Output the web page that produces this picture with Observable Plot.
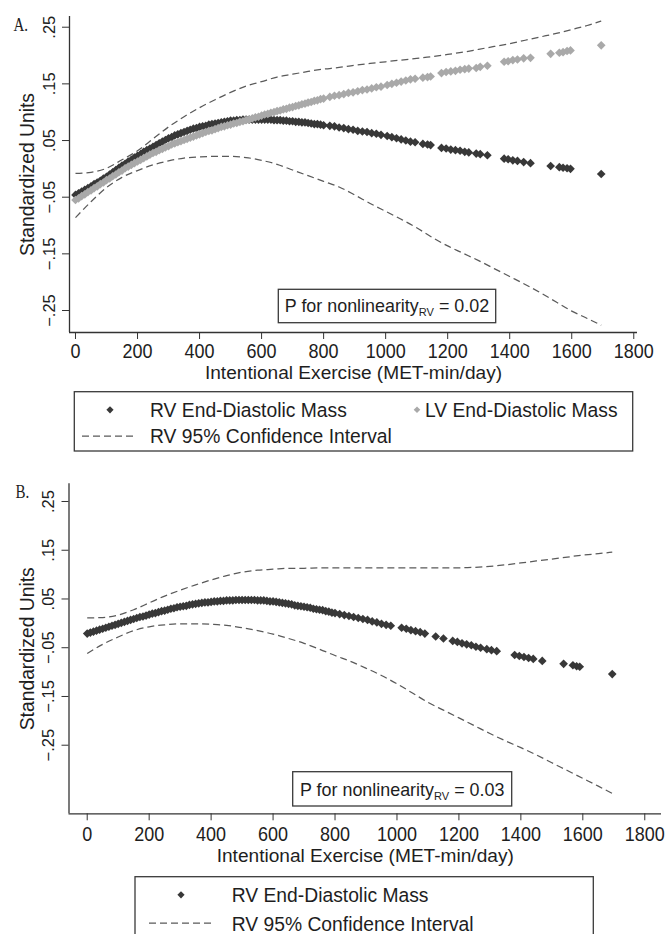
<!DOCTYPE html>
<html><head><meta charset="utf-8">
<script src="https://cdn.jsdelivr.net/npm/d3@7"></script>
<script src="https://cdn.jsdelivr.net/npm/@observablehq/plot@0.6"></script>
<style>
html,body{margin:0;padding:0;background:#fff;}
#page{position:relative;width:668px;height:934px;overflow:hidden;background:#fff;}
#page > svg{position:absolute;left:0;}
</style></head><body><div id="page"></div>
<script>
// ---------- data ----------
const xTicks = [0,200,400,600,800,1000,1200,1400,1600,1800];
const xTickLabels = ["0","200","400","600","800","1000","1200","1400","1600","1800"];
const yTicks = [-0.25,-0.15,-0.05,0.05,0.15,0.25];
const yTickLabels = ["\u2212.25","\u2212.15","\u2212.05",".05",".15",".25"];
const xTitle = "Intentional Exercise (MET-min/day)";
const yTitle = "Standardized Units";

// Panel A: subjects' exercise values and predicted standardized masses
const exerciseA = [0,10,20,30,40,50,60,70,80,90,100,110,120,130,140,150,160,170,180,190,200,210,220,230,240,250,260,270,280,290,300,310,320,330,340,350,360,370,380,390,400,410,420,430,440,450,460,470,480,490,500,510,520,530,540,550,560,570,580,590,600,610,620,630,640,650,660,670,680,690,700,710,720,730,740,750,760,770,780,790,800,
  820,835,850,865,880,895,910,925,940,955,970,985,1005,1020,1035,1050,1065,1080,1095,1120,1135,1145,1180,1195,1210,1225,1240,1255,1268,1292,1305,1328,1382,1395,1410,1425,1445,1467,1532,1560,1572,1585,1596,1695];
const rvA = [-0.046,-0.043,-0.040,-0.037,-0.034,-0.031,-0.027,-0.024,-0.021,-0.017,-0.014,-0.010,-0.006,-0.002,0.002,0.006,0.009,0.013,0.016,0.020,0.023,0.026,0.030,0.033,0.036,0.039,0.042,0.045,0.048,0.051,0.054,0.056,0.059,0.061,0.063,0.065,0.067,0.069,0.071,0.072,0.074,0.075,0.076,0.078,0.079,0.080,0.081,0.082,0.083,0.084,0.085,0.085,0.086,0.086,0.087,0.087,0.087,0.087,0.087,0.087,0.087,0.087,0.087,0.087,0.086,0.086,0.086,0.085,0.085,0.084,0.084,0.083,0.083,0.082,0.082,0.081,0.080,0.079,0.079,0.078,0.077,
  0.076,0.075,0.073,0.072,0.070,0.069,0.067,0.066,0.065,0.063,0.062,0.060,0.058,0.056,0.054,0.052,0.050,0.048,0.047,0.044,0.043,0.042,0.037,0.036,0.034,0.033,0.032,0.030,0.029,0.027,0.026,0.024,0.018,0.017,0.015,0.014,0.012,0.010,0.005,0.003,0.002,0.001,0.000,-0.009];
const lvA = [-0.055,-0.052,-0.048,-0.045,-0.041,-0.038,-0.034,-0.031,-0.027,-0.024,-0.020,-0.017,-0.013,-0.010,-0.006,-0.003,0.001,0.004,0.007,0.010,0.013,0.016,0.019,0.022,0.025,0.028,0.030,0.033,0.035,0.038,0.040,0.043,0.045,0.047,0.049,0.051,0.053,0.055,0.057,0.059,0.061,0.063,0.065,0.067,0.068,0.070,0.072,0.074,0.075,0.077,0.078,0.080,0.081,0.083,0.084,0.086,0.087,0.089,0.091,0.092,0.094,0.096,0.097,0.099,0.100,0.102,0.103,0.105,0.106,0.108,0.109,0.111,0.112,0.114,0.115,0.117,0.118,0.120,0.121,0.123,0.124,
  0.127,0.129,0.130,0.132,0.134,0.135,0.137,0.139,0.140,0.142,0.144,0.145,0.148,0.150,0.152,0.154,0.156,0.158,0.159,0.161,0.162,0.163,0.169,0.171,0.172,0.173,0.175,0.176,0.177,0.178,0.180,0.182,0.189,0.190,0.192,0.193,0.195,0.196,0.203,0.205,0.206,0.208,0.209,0.218];
const ciXA = [0,50,100,150,200,250,300,350,400,450,500,550,600,650,700,750,800,850,900,950,1000,1050,1100,1150,1200,1250,1300,1350,1400,1450,1500,1550,1600,1650,1695];
const ciUpperA = [-0.008,-0.006,0.001,0.016,0.032,0.053,0.074,0.092,0.108,0.122,0.135,0.146,0.154,0.162,0.167,0.172,0.176,0.179,0.183,0.186,0.189,0.192,0.195,0.198,0.202,0.206,0.211,0.216,0.221,0.227,0.233,0.239,0.246,0.253,0.261];
const ciLowerA = [-0.086,-0.058,-0.033,-0.015,-0.003,0.007,0.014,0.019,0.021,0.022,0.022,0.020,0.015,0.008,-0.002,-0.012,-0.022,-0.032,-0.046,-0.061,-0.075,-0.089,-0.104,-0.121,-0.136,-0.149,-0.162,-0.176,-0.190,-0.204,-0.219,-0.235,-0.251,-0.264,-0.276];

// Panel B
const exerciseB = [0,10,20,30,40,50,60,70,80,90,100,110,120,130,140,150,160,170,180,190,200,210,220,230,240,250,260,270,280,290,300,310,320,330,340,350,360,370,380,390,400,410,420,430,440,450,460,470,480,490,500,510,520,530,540,550,560,570,580,590,600,610,620,630,640,650,660,670,680,690,700,710,720,730,740,750,760,770,780,790,
  800,815,830,845,860,875,890,905,920,935,950,965,980,1015,1030,1045,1060,1075,1090,1125,1150,1180,1195,1210,1225,1240,1255,1270,1290,1305,1322,1380,1395,1410,1425,1440,1469,1538,1568,1580,1590,1695];
const rvB = [-0.021,-0.019,-0.017,-0.015,-0.013,-0.011,-0.009,-0.007,-0.005,-0.003,-0.001,0.001,0.003,0.005,0.007,0.009,0.011,0.013,0.014,0.016,0.018,0.020,0.021,0.023,0.025,0.026,0.028,0.030,0.031,0.033,0.034,0.035,0.036,0.038,0.039,0.040,0.041,0.042,0.043,0.043,0.044,0.045,0.045,0.046,0.046,0.047,0.047,0.047,0.048,0.048,0.048,0.048,0.048,0.048,0.048,0.047,0.047,0.047,0.046,0.045,0.045,0.044,0.043,0.042,0.041,0.040,0.039,0.037,0.036,0.035,0.034,0.033,0.032,0.030,0.029,0.028,0.027,0.025,0.024,0.022,
  0.021,0.019,0.017,0.015,0.013,0.011,0.009,0.007,0.004,0.002,-0.001,-0.003,-0.005,-0.009,-0.011,-0.014,-0.016,-0.018,-0.021,-0.027,-0.031,-0.036,-0.038,-0.041,-0.043,-0.045,-0.048,-0.050,-0.053,-0.055,-0.057,-0.065,-0.067,-0.069,-0.071,-0.073,-0.077,-0.083,-0.086,-0.088,-0.089,-0.104];
const ciXB = [0,50,100,150,200,250,300,350,400,450,500,550,600,650,700,750,800,850,900,950,1000,1050,1100,1150,1200,1250,1300,1350,1400,1450,1500,1550,1600,1650,1695];
const ciUpperB = [0.011,0.012,0.017,0.028,0.042,0.056,0.068,0.079,0.089,0.098,0.105,0.109,0.111,0.113,0.113,0.114,0.114,0.114,0.114,0.114,0.114,0.114,0.114,0.114,0.114,0.115,0.117,0.120,0.124,0.128,0.132,0.136,0.140,0.143,0.146];
const ciLowerB = [-0.062,-0.043,-0.028,-0.015,-0.007,-0.003,-0.001,-0.001,-0.002,-0.004,-0.009,-0.015,-0.022,-0.031,-0.041,-0.053,-0.066,-0.078,-0.092,-0.107,-0.124,-0.143,-0.162,-0.178,-0.194,-0.210,-0.226,-0.241,-0.255,-0.270,-0.286,-0.302,-0.318,-0.334,-0.349];

const legendRV = "RV End-Diastolic Mass";
const legendLV = "LV End-Diastolic Mass";
const legendCI = "RV 95% Confidence Interval";
const pTextA = ["P for nonlinearity", "RV", " = 0.02"];
const pTextB = ["P for nonlinearity", "RV", " = 0.03"];

// ---------- style ----------
const SANS = '"Liberation Sans", Arial, sans-serif';
const SERIF = '"Liberation Serif", "Times New Roman", serif';
const FS = {xtick: 18, title: 19.1, legend: 19.3, pbox: 17.9, ytick: 16.5, ytitle: 19.3, letter: 15};
const XTICK_STRETCH = 1.12;   // tick numerals are tall and narrow in the reference
const LETTER_STRETCH = 1.3;

const DARK = "#383838", LIGHT = "#a9a9a9", CI = "#5a5a5a", AX = "#333";
const xLabelMap = new Map(xTicks.map((d, i) => [d, xTickLabels[i]]));
const yLabelMap = new Map(yTicks.map((d, i) => [d, yTickLabels[i]]));

function stretch(t, k) {
  t.setAttribute("transform", (t.getAttribute("transform") || "") + ` scale(1,${k})`);
}

function panel({top, height, mt, mb, ml, mr, xDom, yDom, pts, ciX, ciU, ciL, letter, letterDx, letterDy, tickPad, titleDy, ytitleDx}) {
  const marks = [
    Plot.ruleX([xDom[0]], {stroke: AX, strokeWidth: 1.3}),
    Plot.ruleY([yDom[0]], {stroke: AX, strokeWidth: 1.3}),
    Plot.axisY({ticks: yTicks, tickFormat: d => yLabelMap.get(d), tickRotate: -90, tickSize: 7, tickPadding: 8,
      fontSize: FS.ytick, fontFamily: SANS, stroke: AX}),
    Plot.axisX({ticks: xTicks, tickFormat: d => xLabelMap.get(d), tickSize: 7, tickPadding: tickPad,
      fontSize: FS.xtick, fontFamily: SANS, stroke: AX}),
    Plot.text([yTitle], {frameAnchor: "left", rotate: -90, dx: ytitleDx, textAnchor: "middle", lineAnchor: "bottom",
      fontSize: FS.ytitle, fontFamily: SANS}),
    Plot.text([xTitle], {frameAnchor: "bottom", dy: titleDy, textAnchor: "middle", lineAnchor: "bottom",
      fontSize: FS.title, fontFamily: SANS}),
    Plot.text([letter], {frameAnchor: "top-left", dx: letterDx, dy: letterDy, textAnchor: "start", lineAnchor: "bottom",
      fontSize: FS.letter, fontFamily: SERIF})
  ];
  for (const p of pts) {
    marks.push(Plot.dot(p.x.map((x, i) => ({x, y: p.y[i]})), {x: "x", y: "y", symbol: "diamond2", r: 3.9, fill: p.color, stroke: null}));
  }
  const up = ciX.map((x, i) => ({x, y: ciU[i]}));
  const lo = ciX.map((x, i) => ({x, y: ciL[i]}));
  for (const d of [up, lo]) {
    marks.push(Plot.line(d, {x: "x", y: "y", stroke: CI, strokeWidth: 1.25, strokeDasharray: "7,4", strokeLinecap: "butt", curve: "monotone-x"}));
  }
  const svg = Plot.plot({
    width: 668, height, marginTop: mt, marginBottom: mb, marginLeft: ml, marginRight: mr,
    x: {domain: xDom, label: null},
    y: {domain: yDom, label: null},
    style: {fontFamily: SANS, fontSize: "16px", color: "#1e1e1e", background: "transparent", overflow: "visible"},
    marks
  });
  // stretch tick numerals and panel letter vertically about their own anchor point
  svg.querySelectorAll('g[aria-label="x-axis tick label"] text').forEach(t => stretch(t, XTICK_STRETCH));
  svg.querySelectorAll("text").forEach(t => { if (t.textContent === letter) stretch(t, LETTER_STRETCH); });
  svg.style.top = top + "px";
  return svg;
}

const page = document.getElementById("page");

page.appendChild(panel({
  top: 0, height: 390, mt: 16, mb: 58, ml: 69, mr: 31,
  xDom: [-19.3, 1812], yDom: [-0.2888, 0.2689],
  pts: [{x: exerciseA, y: rvA, color: DARK}, {x: exerciseA, y: lvA, color: LIGHT}],
  ciX: ciXA, ciU: ciUpperA, ciL: ciLowerA,
  letter: "A.", letterDx: -56, letterDy: 14, tickPad: 4, titleDy: 46.9, ytitleDx: -35.7
}));

page.appendChild(panel({
  top: 455, height: 420, mt: 28.3, mb: 61.7, ml: 68.5, mr: 7,
  xDom: [-58.8, 1854], yDom: [-0.3907, 0.2863],
  pts: [{x: exerciseB, y: rvB, color: DARK}],
  ciX: ciXB, ciU: ciUpperB, ciL: ciLowerB,
  letter: "B.", letterDx: -53.5, letterDy: 13.7, tickPad: 6, titleDy: 48.4, ytitleDx: -35.5
}));

// ---------- legends and annotation boxes ----------
const ov = d3.create("svg").attr("width", 668).attr("height", 934).style("top", "0px")
  .style("font-family", SANS).style("fill", "#1e1e1e");

function diamond(cx, cy, h, color) {
  ov.append("path").attr("d", `M${cx},${cy - h}L${cx + h},${cy}L${cx},${cy + h}L${cx - h},${cy}Z`).attr("fill", color);
}
function box(x, y, w, h) {
  ov.append("rect").attr("x", x).attr("y", y).attr("width", w).attr("height", h)
    .attr("fill", "none").attr("stroke", "#3a3a3a").attr("stroke-width", 1.3);
}
function label(x, y, s) {
  ov.append("text").attr("x", x).attr("y", y).attr("font-size", FS.legend).text(s);
}
function dash(x1, x2, y) {
  ov.append("line").attr("x1", x1).attr("x2", x2).attr("y1", y).attr("y2", y)
    .attr("stroke", CI).attr("stroke-width", 1.25).attr("stroke-dasharray", "7,4");
}
function pbox(x, y, w, h, baseline, parts) {
  ov.append("rect").attr("x", x).attr("y", y).attr("width", w).attr("height", h)
    .attr("fill", "#fff").attr("stroke", "#3a3a3a").attr("stroke-width", 1.3);
  const t = ov.append("text").attr("x", x + w / 2).attr("y", baseline).attr("text-anchor", "middle").attr("font-size", FS.pbox);
  t.append("tspan").text(parts[0]);
  t.append("tspan").attr("font-size", FS.pbox * 0.62).attr("dy", 4).text(parts[1]);
  t.append("tspan").attr("dy", -4).text(parts[2]);
}

// Legend A
box(74.3, 391.7, 558.4, 59.3);
diamond(110, 409.8, 3.6, DARK);
label(150, 417.3, legendRV);
diamond(417, 409.8, 3.3, LIGHT);
label(425, 417.3, legendLV);
dash(82, 135, 436);
label(150, 443.3, legendCI);

// Legend B
box(135, 876.7, 458.3, 80);
diamond(181, 894.8, 3.6, DARK);
label(231.7, 902.3, legendRV);
dash(149, 212, 923);
label(231.7, 930.7, legendCI);

// P-value boxes
pbox(278.3, 289.3, 217.4, 33.4, 311.7, pTextA);
pbox(292.7, 771.7, 219, 34.3, 795.6, pTextB);

page.appendChild(ov.node());
</script>
</body></html>
